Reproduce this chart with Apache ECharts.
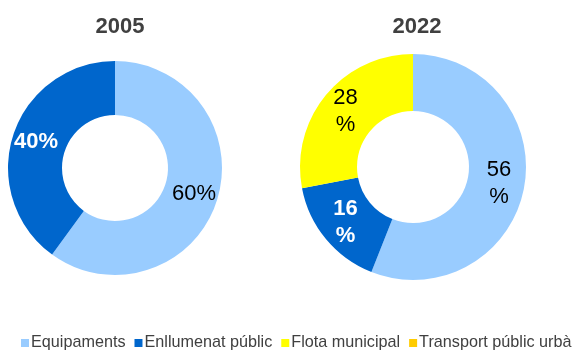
<!DOCTYPE html>
<html>
<head>
<meta charset="utf-8">
<script src="https://cdn.jsdelivr.net/npm/echarts@6/dist/echarts.min.js"></script>
<style>
  html, body { margin: 0; padding: 0; background: #fff; }
  #chart { width: 577px; height: 352px; }
</style>
</head>
<body>
<div id="chart"></div>
<script>
// Energy consumption share by use, 2005 vs 2022 (%)
const categories = ['Equipaments', 'Enllumenat públic', 'Flota municipal', 'Transport públic urbà'];
const years = ['2005', '2022'];
const values2005 = [60, 40, 0, 0];
const values2022 = [56, 16, 28, 0];

const sliceColors = ['#99CCFF', '#0066CC', '#FFFF00', '#FFCC00'];
const labelColors = ['#000000', '#FFFFFF', '#000000', '#000000'];
const labelWeights = ['normal', 'bold', 'normal', 'normal'];

const FONT = '"Liberation Sans", Arial, Helvetica, sans-serif';

function buildData(values) {
  return categories.map((name, i) => ({
    name: name,
    value: values[i],
    itemStyle: { color: sliceColors[i] },
    label: { color: labelColors[i], fontWeight: labelWeights[i] }
  }));
}

function pieSeries(name, values, center, radius, pattern) {
  return {
    name: name,
    type: 'pie',
    center: center,
    radius: radius,
    startAngle: 90,
    clockwise: true,
    avoidLabelOverlap: false,
    silent: true,
    label: {
      show: true,
      position: 'inside',
      fontFamily: FONT,
      fontSize: 22,
      lineHeight: 27,
      formatter: p => (p.value > 0 ? pattern.replace('{c}', p.value) : '')
    },
    labelLine: { show: false },
    emphasis: { disabled: true },
    data: buildData(values)
  };
}

const chart = echarts.init(document.getElementById('chart'), null, { renderer: 'canvas' });
chart.setOption({
  animation: false,
  backgroundColor: '#ffffff',
  title: [
    { text: years[0], left: 115, top: 11, textAlign: 'center',
      textStyle: { fontFamily: FONT, fontSize: 22, fontWeight: 'bold', color: '#404040' } },
    { text: years[1], left: 412, top: 11, textAlign: 'center',
      textStyle: { fontFamily: FONT, fontSize: 22, fontWeight: 'bold', color: '#404040' } }
  ],
  legend: {
    data: categories,
    left: 21,
    top: 335,
    padding: 0,
    itemWidth: 8,
    itemHeight: 8,
    itemGap: 9,
    icon: 'rect',
    selectedMode: false,
    textStyle: { fontFamily: FONT, fontSize: 16.2, color: '#404040', padding: [0, 0, 0, -3] }
  },
  series: [
    pieSeries(years[0], values2005, [115, 168], [53, 107], '{c}%'),
    pieSeries(years[1], values2022, [413, 167], [56, 113], '{c}\n%')
  ]
});
</script>
</body>
</html>
